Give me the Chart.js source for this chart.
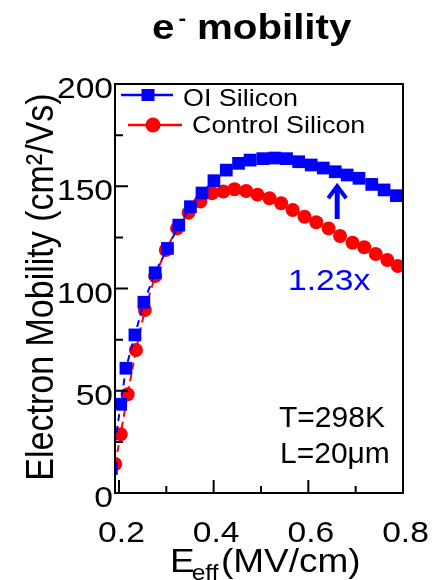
<!DOCTYPE html>
<html>
<head>
<meta charset="utf-8">
<script src="https://cdn.jsdelivr.net/npm/chart.js@4.4.1/dist/chart.umd.min.js"></script>
<style>
  html, body { margin: 0; padding: 0; background: #fff; }
  canvas { display: block; }
</style>
</head>
<body>
<canvas id="mobility" width="434" height="580"></canvas>
<script>
// E_eff (MV/cm) and electron mobility (cm2/Vs)
const oiEeff = [0.184, 0.2036, 0.2147, 0.2337, 0.2526, 0.2765, 0.3025, 0.3263, 0.351, 0.3754, 0.4006, 0.4267, 0.4526,
  0.477, 0.5038, 0.529, 0.554, 0.5796, 0.606, 0.6316, 0.6568, 0.682, 0.707, 0.734, 0.76, 0.786];
const oiMobility = [12, 43.4, 61, 77.3, 93.3, 107.7, 119.6, 131, 140, 146.7, 152.7, 157.9, 161.2,
  162.8, 163.5, 163.8, 163.5, 162, 160.4, 158.9, 157.1, 155.5, 153.9, 150.9, 148.2, 145.4];

const ctrlEeff = [0.192, 0.2036, 0.2183, 0.2358, 0.2547, 0.2765, 0.299, 0.3228, 0.347, 0.372, 0.3965, 0.4204, 0.444,
  0.4688, 0.4926, 0.518, 0.5425, 0.567, 0.592, 0.6168, 0.6428, 0.667, 0.6933, 0.718, 0.7425, 0.767, 0.789];
const ctrlMobility = [14.2, 28.7, 48.3, 69.9, 89.5, 106.1, 118.8, 129.4, 137.1, 142.5, 146.6, 147.4, 148.5,
  147.7, 145.9, 144.1, 141.7, 138.4, 135.1, 132.4, 129.4, 125.7, 122.4, 120.2, 116.9, 113.9, 111];

const xTicks = [0.2, 0.4, 0.6, 0.8];
const xMinor = [0.3, 0.5, 0.7];
const yTicks = [0, 50, 100, 150, 200];
const yMinor = [25, 75, 125, 175];

// 1.23x arrow, from control curve up to OI curve
const arrowEeff = 0.661;
const arrowMobility = [134, 151];

const FONT = '"Liberation Sans", Arial, sans-serif';
const SX = 1.12; // the source picture is a bit wider than tall

function text(ctx, s, x, y, size, opts = {}) {
    ctx.save();
    ctx.font = `${opts.bold ? 'bold ' : ''}${size}px ${FONT}`;
    ctx.fillStyle = opts.color || '#000';
    ctx.textAlign = opts.align || 'left';
    ctx.textBaseline = 'alphabetic';
    ctx.translate(x, y);
    ctx.scale(opts.sx || SX, 1);
    ctx.fillText(s, 0, 0);
    const w = ctx.measureText(s).width * (opts.sx || SX);
    ctx.restore();
    return w;
}

const framePlugin = {
    id: 'frame',
    afterDatasetsDraw(chart) {
        const { ctx, chartArea: a, scales: { x, y } } = chart;
        ctx.save();

        // box + inward ticks
        ctx.strokeStyle = '#000';
        ctx.lineWidth = 2;
        ctx.strokeRect(a.left, a.top, a.right - a.left, a.bottom - a.top);
        ctx.beginPath();
        xTicks.forEach(v => { const p = x.getPixelForValue(v); ctx.moveTo(p, a.bottom); ctx.lineTo(p, a.bottom - 13); });
        xMinor.forEach(v => { const p = x.getPixelForValue(v); ctx.moveTo(p, a.bottom); ctx.lineTo(p, a.bottom - 7); });
        yTicks.forEach(v => { const p = y.getPixelForValue(v); ctx.moveTo(a.left, p); ctx.lineTo(a.left + 13, p); });
        yMinor.forEach(v => { const p = y.getPixelForValue(v); ctx.moveTo(a.left, p); ctx.lineTo(a.left + 8, p); });
        ctx.stroke();

        // tick labels
        xTicks.forEach(v => text(ctx, v.toFixed(1), x.getPixelForValue(v) + 2.5, 542, 30, { align: 'center' }));
        yTicks.forEach(v => text(ctx, String(v), a.left - 2, y.getPixelForValue(v) + 14, 30, { align: 'right' }));

        // title
        let cx = 152;
        cx += text(ctx, 'e', cx, 39, 35, { bold: true, sx: 1.15 });
        text(ctx, '-', cx + 4, 25, 20, { bold: true, sx: 1.15 });
        text(ctx, 'mobility', 197, 39, 35, { bold: true, sx: 1.15 });

        // x title
        cx = 170;
        cx += text(ctx, 'E', cx, 572, 33);
        text(ctx, 'eff', cx - 3, 580, 22);
        text(ctx, '(MV/cm)', 221, 572, 33);

        // y title
        ctx.save();
        ctx.translate(53, 287);
        ctx.rotate(-Math.PI / 2);
        ctx.scale(1, SX);
        ctx.font = `34px ${FONT}`;
        ctx.fillStyle = '#000';
        ctx.textAlign = 'center';
        ctx.fillText('Electron Mobility (cm\u00b2/Vs)', 0, 0);
        ctx.restore();

        // legend
        ctx.lineWidth = 2.5;
        ctx.strokeStyle = '#0000ff';
        ctx.fillStyle = '#0000ff';
        ctx.beginPath(); ctx.moveTo(121, 95); ctx.lineTo(173, 95); ctx.stroke();
        ctx.fillRect(141.5, 89, 13, 12);
        text(ctx, 'OI Silicon', 183, 106, 24);
        ctx.strokeStyle = '#ff0000';
        ctx.fillStyle = '#ff0000';
        ctx.beginPath(); ctx.moveTo(128, 125); ctx.lineTo(182, 125); ctx.stroke();
        ctx.beginPath(); ctx.arc(153, 125, 7.5, 0, Math.PI * 2); ctx.fill();
        text(ctx, 'Control Silicon', 192, 133, 24);

        // arrow + ratio
        const ax = x.getPixelForValue(arrowEeff);
        const y0 = y.getPixelForValue(arrowMobility[0]);
        const y1 = y.getPixelForValue(arrowMobility[1]);
        ctx.strokeStyle = '#0000ff';
        ctx.lineWidth = 5;
        ctx.beginPath(); ctx.moveTo(ax, y0); ctx.lineTo(ax, y1 + 3); ctx.stroke();
        ctx.lineWidth = 4;
        ctx.beginPath(); ctx.moveTo(ax - 9, y1 + 14); ctx.lineTo(ax, y1 + 2); ctx.lineTo(ax + 9, y1 + 14); ctx.stroke();
        text(ctx, '1.23x', 288, 290, 30, { color: '#0000ff' });

        // conditions
        text(ctx, 'T=298K', 279, 427, 30, { sx: 1.0 });
        text(ctx, 'L=20\u03bcm', 280, 463, 30, { sx: 1.0 });

        ctx.restore();
    },
};

new Chart(document.getElementById('mobility'), {
    type: 'line',
    data: {
        datasets: [
            {
                label: 'OI Silicon',
                data: oiEeff.map((v, i) => ({ x: v, y: oiMobility[i] })),
                borderColor: '#0000ff',
                backgroundColor: '#0000ff',
                borderWidth: 2,
                borderDash: [7, 5],
                pointStyle: 'rect',
                pointRadius: 9,
                pointBorderWidth: 0,
                tension: 0,
                clip: 0,
            },
            {
                label: 'Control Silicon',
                data: ctrlEeff.map((v, i) => ({ x: v, y: ctrlMobility[i] })),
                borderColor: '#ff0000',
                backgroundColor: '#ff0000',
                borderWidth: 2,
                borderDash: [7, 5],
                pointStyle: 'circle',
                pointRadius: 7,
                pointBorderWidth: 0,
                tension: 0,
                clip: 0,
            },
        ],
    },
    options: {
        responsive: false,
        animation: false,
        devicePixelRatio: 1,
        layout: { padding: { top: 84, right: 31, left: 0, bottom: 0 } },
        plugins: { legend: { display: false }, tooltip: { enabled: false } },
        scales: {
            x: {
                type: 'linear',
                min: 0.1916,
                max: 0.8,
                grid: { display: false },
                border: { display: false },
                ticks: { display: false },
                afterFit(s) { s.height = 87; },
            },
            y: {
                min: 0,
                max: 200,
                grid: { display: false },
                border: { display: false },
                ticks: { display: false },
                afterFit(s) { s.width = 115; },
            },
        },
    },
    plugins: [framePlugin],
});
</script>
</body>
</html>
